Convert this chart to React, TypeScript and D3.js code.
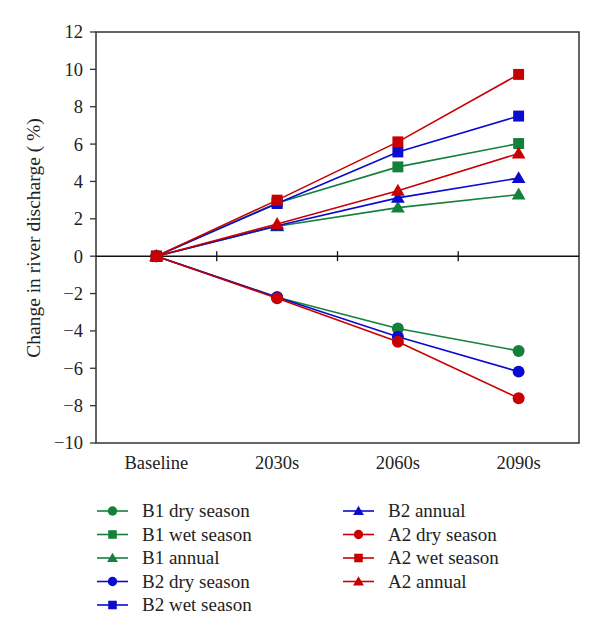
import React from "react";
import * as d3 from "d3";

const categories = ["Baseline", "2030s", "2060s", "2090s"];
const yTicks = [12, 10, 8, 6, 4, 2, 0, -2, -4, -6, -8, -10];

const seriesNames = [
  "B1 dry season", "B1 wet season", "B1 annual",
  "B2 dry season", "B2 wet season", "B2 annual",
  "A2 dry season", "A2 wet season", "A2 annual",
];
const b1Dry = [0, -2.2, -3.87, -5.07];
const b1Wet = [0, 2.85, 4.78, 6.03];
const b1Annual = [0, 1.6, 2.6, 3.3];
const b2Dry = [0, -2.2, -4.31, -6.18];
const b2Wet = [0, 2.82, 5.58, 7.5];
const b2Annual = [0, 1.63, 3.12, 4.18];
const a2Dry = [0, -2.25, -4.58, -7.6];
const a2Wet = [0, 3.0, 6.12, 9.73];
const a2Annual = [0, 1.72, 3.5, 5.5];

const GREEN = "#13803c";
const BLUE = "#0a0ad0";
const RED = "#c80000";

const seriesValues = [b1Dry, b1Wet, b1Annual, b2Dry, b2Wet, b2Annual, a2Dry, a2Wet, a2Annual];
const seriesColors = [GREEN, GREEN, GREEN, BLUE, BLUE, BLUE, RED, RED, RED];
const seriesShapes = ["circle", "square", "triangle", "circle", "square", "triangle", "circle", "square", "triangle"];

const FONT = "Liberation Serif, Times New Roman, serif";

function Marker({ shape, x, y, color, scale = 1 }: { shape: string; x: number; y: number; color: string; scale?: number }) {
  if (shape === "circle") return <circle cx={x} cy={y} r={5.2 * scale} fill={color} />;
  if (shape === "square") {
    const s = 9.5 * scale;
    return <rect x={x - s / 2} y={y - s / 2} width={s} height={s} fill={color} />;
  }
  const sym = d3.symbol().type(d3.symbolTriangle).size(62 * scale * scale)();
  return <path d={sym || ""} transform={`translate(${x},${y + 1})`} fill={color} />;
}

export default function App() {
  const left = 96, right = 579, top = 32, bottom = 443;
  const x = d3.scaleBand().domain(categories).range([left, right]);
  const y = d3.scaleLinear().domain([-10, 12]).range([bottom, top]);
  const cx = (c: string) => (x(c) as number) + x.bandwidth() / 2;
  const line = d3.line<number>().x((_, i) => cx(categories[i])).y((v) => y(v));
  const boundaries = categories.slice(1).map((c) => x(c) as number);

  const legendRows = [0, 1, 2, 3, 4].map((i) => 511 + i * 23.5);
  const ts = { fontFamily: FONT } as React.CSSProperties;

  return (
    <svg width={600} height={643} style={{ position: "absolute", left: 0, top: 0, background: "#fff", fontFamily: FONT }}>
      <rect x={left} y={top} width={right - left} height={bottom - top} fill="none" stroke="#333" strokeWidth={1.5} />
      <line x1={left} x2={right} y1={y(0)} y2={y(0)} stroke="#111" strokeWidth={1.5} />
      {boundaries.map((b, i) => (
        <line key={i} x1={b} x2={b} y1={y(0) - 5} y2={y(0) + 5} stroke="#111" strokeWidth={1.3} />
      ))}
      {yTicks.map((t) => (
        <g key={t}>
          <line x1={left - 6} x2={left} y1={y(t)} y2={y(t)} stroke="#333" strokeWidth={1.3} />
          <text style={ts} x={left - 13} y={y(t)} dy="0.35em" textAnchor="end" fontSize={18.5} fill="#222">
            {t < 0 ? "\u2212" + Math.abs(t) : t}
          </text>
        </g>
      ))}
      {categories.map((c) => (
        <text style={ts} key={c} x={cx(c)} y={469} textAnchor="middle" fontSize={18.5} fill="#222">{c}</text>
      ))}
      <text style={ts} transform={`translate(40,238) rotate(-90)`} textAnchor="middle" fontSize={19.5} fill="#222">
        Change in river discharge ( %)
      </text>
      {seriesValues.map((vals, si) => (
        <g key={si}>
          <path d={line(vals) || ""} fill="none" stroke={seriesColors[si]} strokeWidth={1.6} />
          {vals.map((v, i) => (
            <Marker key={i} shape={seriesShapes[si]} x={cx(categories[i])} y={y(v)} color={seriesColors[si]} scale={1.15} />
          ))}
        </g>
      ))}
      {seriesNames.map((name, i) => {
        const col = i < 5 ? 0 : 1;
        const row = i < 5 ? i : i - 5;
        const lx = col === 0 ? 97 : 343;
        const ly = legendRows[row];
        return (
          <g key={name}>
            <line x1={lx} x2={lx + 31} y1={ly} y2={ly} stroke={seriesColors[i]} strokeWidth={1.6} />
            <Marker shape={seriesShapes[i]} x={lx + 15.5} y={ly} color={seriesColors[i]} scale={0.9} />
            <text style={ts} x={lx + 45} y={ly} dy="0.33em" fontSize={19} fill="#222">{name}</text>
          </g>
        );
      })}
    </svg>
  );
}
